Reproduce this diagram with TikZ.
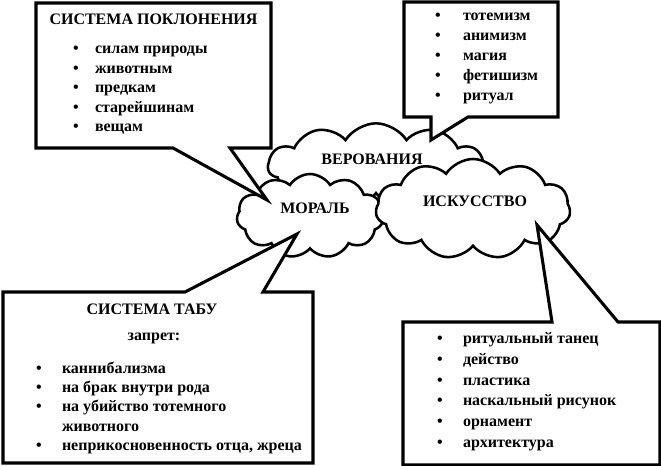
\documentclass[tikz,border=0pt]{standalone}
\usepackage{fontspec}
\setmainfont{Liberation Serif}
\newfontfamily\timesbold{Liberation Serif}[UprightFont=*, BoldFont=* Bold]
\usetikzlibrary{shapes.symbols}
\begin{document}
\begin{tikzpicture}[x=0.75pt,y=-0.75pt,
  every node/.style={font=\timesbold\fontsize{12}{14}\selectfont\bfseries, inner sep=0pt, outer sep=0pt},
  callout/.style={draw, line width=2.3pt, fill=white, line join=miter},
  cloudbox/.style={cloud, draw, fill=white, line width=1.9pt, cloud puffs=11, cloud puff arc=115, cloud ignores aspect},
  item/.style={anchor=base west},
  dot/.style={anchor=base},
  ttl/.style={anchor=base}]
\useasboundingbox (0,0) rectangle (661,466);
% box frames (drawn later as callouts)
\node[minimum width=176.25pt, minimum height=108.75pt] (tl) at (153.5,75.5) {};
\node[minimum width=115.5pt, minimum height=86.25pt] (tr) at (481,59.5) {};
\node[minimum width=232.5pt, minimum height=128.25pt] (bl) at (158,377.5) {};
\node[minimum width=192.75pt, minimum height=107.25pt] (br) at (531.5,393.5) {};
% clouds
\node[cloudbox, minimum width=162pt, minimum height=64pt] (ver) at (376,166) {};
\node[cloudbox, minimum width=110pt, minimum height=63pt] (mor) at (310,216) {};
\node[cloudbox, minimum width=146pt, minimum height=75pt] (isk) at (473,209) {};
\node[ttl] (verT) at (372,164.5) {ВЕРОВАНИЯ};
\node[ttl] (morT) at (315,214) {МОРАЛЬ};
\node[ttl] (iskT) at (475,207) {ИСКУССТВО};
% tails
\coordinate (tlA) at (173,148); \coordinate (tlB) at (230,148); \coordinate (tlTip) at (267,200);
\coordinate (trA) at (431,117); \coordinate (trB) at (468,117); \coordinate (trTip) at (431,140);
\coordinate (blA) at (185,292); \coordinate (blB) at (263,292); \coordinate (blTip) at (297,234);
\coordinate (brA) at (552,322); \coordinate (brB) at (618,322); \coordinate (brTip) at (537,225);
\draw[callout] (tl.north west) -- (tl.north east) -- (tl.south east) -- (tlB) -- (tlTip) -- (tlA) -- (tl.south west) -- cycle;
\draw[callout] (tr.north west) -- (tr.north east) -- (tr.south east) -- (trB) -- (trTip) -- (trA) -- (tr.south west) -- cycle;
\draw[callout] (bl.north west) -- (blA) -- (blTip) -- (blB) -- (bl.north east) -- (bl.south east) -- (bl.south west) -- cycle;
\draw[callout] (br.north west) -- (brA) -- (brTip) -- (brB) -- (br.north east) -- (br.south east) -- (br.south west) -- cycle;
% top-left text
\node[ttl] (tlT) at (153.5,25) {СИСТЕМА ПОКЛОНЕНИЯ};
\foreach \t [count=\i] in {силам природы, животным, предкам, старейшинам, вещам}{
  \node[dot] (tlD\i) at (76,{54+19.5*(\i-1)}) {•};
  \node[item] (tlI\i) at (95,{54+19.5*(\i-1)}) {\t};
}
% top-right text
\foreach \t [count=\i] in {тотемизм, анимизм, магия, фетишизм, ритуал}{
  \node[dot] (trD\i) at (438,{21+20*(\i-1)}) {•};
  \node[item] (trI\i) at (463,{21+20*(\i-1)}) {\t};
}
% bottom-left text
\node[ttl] (blT) at (152,315) {СИСТЕМА ТАБУ};
\node[ttl] (blS) at (154,341) {запрет:};
\node[dot] (blD1) at (39,374) {•};
\node[item] (blI1) at (62,374) {каннибализма};
\node[dot] (blD2) at (39,393) {•};
\node[item] (blI2) at (62,393) {на брак внутри рода};
\node[dot] (blD3) at (39,412) {•};
\node[item] (blI3) at (62,412) {на убийство тотемного};
\node[item] (blI3b) at (62,432) {животного};
\node[dot] (blD4) at (39,451) {•};
\node[item] (blI4) at (62,451) {неприкосновенность отца, жреца};
% bottom-right text
\foreach \t [count=\i] in {ритуальный танец, действо, пластика, наскальный рисунок, орнамент, архитектура}{
  \node[dot] (brD\i) at (440,{343.3+20.9*(\i-1)}) {•};
  \node[item] (brI\i) at (463,{343.3+20.9*(\i-1)}) {\t};
}
\end{tikzpicture}
\end{document}
